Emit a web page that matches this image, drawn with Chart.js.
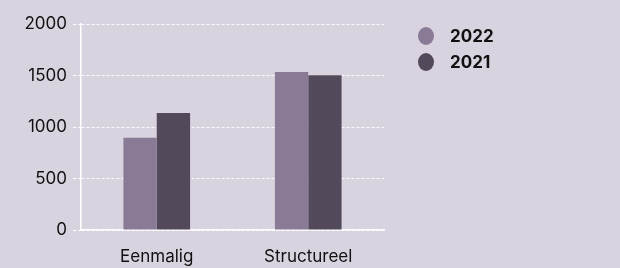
<!DOCTYPE html>
<html>
<head>
<meta charset="utf-8">
<script src="https://cdn.jsdelivr.net/npm/chart.js@4/dist/chart.umd.min.js"></script>
<style>
  html, body { margin: 0; padding: 0; background: #d8d3de; }
  #wrap { width: 620px; height: 268px; position: relative; }
</style>
</head>
<body>
<div id="wrap"><canvas id="c" width="620" height="268"></canvas></div>
<script>
const categories = ['Eenmalig', 'Structureel'];
const seriesNames = ['2022', '2021'];
const values2022 = [895, 1535];
const values2021 = [1135, 1502];
const yTicks = [0, 500, 1000, 1500, 2000];

const colors = ['#897b95', '#524a5b'];
const FONT = 'Inter, "Liberation Sans", sans-serif';

const legendPlugin = {
  id: 'customLegend',
  afterDraw(chart) {
    const ctx = chart.ctx;
    ctx.save();
    chart.data.datasets.forEach((ds, i) => {
      const cy = 36 + i * 26;
      ctx.beginPath();
      ctx.ellipse(426, cy, 8, 9, 0, 0, Math.PI * 2);
      ctx.fillStyle = ds.backgroundColor;
      ctx.fill();
      ctx.fillStyle = '#111111';
      ctx.font = 'bold 17px ' + FONT;
      ctx.textBaseline = 'middle';
      ctx.textAlign = 'left';
      ctx.fillText(ds.label, 450, cy + 1);
    });
    ctx.restore();
  }
};

new Chart(document.getElementById('c'), {
  type: 'bar',
  data: {
    labels: categories,
    datasets: [
      { label: seriesNames[0], data: values2022, backgroundColor: colors[0] },
      { label: seriesNames[1], data: values2021, backgroundColor: colors[1] }
    ]
  },
  options: {
    responsive: false,
    animation: false,
    devicePixelRatio: 1,
    layout: { padding: { top: 24, right: 236, bottom: 0, left: 0 } },
    datasets: { bar: { barPercentage: 1, categoryPercentage: 0.44 } },
    plugins: { legend: { display: false }, tooltip: { enabled: false } },
    scales: {
      x: {
        grid: { display: false, drawTicks: false },
        border: { display: true, color: '#ffffff', width: 1.5 },
        ticks: { color: '#111111', font: { family: FONT, size: 17 }, padding: 17 },
        afterFit(s) { s.height = 38; }
      },
      y: {
        min: 0, max: 2000,
        afterBuildTicks(s) { s.ticks = yTicks.map(v => ({ value: v })); },
        grid: {
          color: 'rgba(255,255,255,0.9)', lineWidth: 1,
          tickLength: 8, tickColor: '#ffffff', tickWidth: 1, tickBorderDash: [3, 2]
        },
        border: { display: true, color: '#ffffff', width: 1.5, dash: [3, 2] },
        ticks: {
          color: '#111111', font: { family: FONT, size: 17 }, padding: 6,
          callback: (v) => String(v)
        },
        afterFit(s) { s.width = 81; }
      }
    }
  },
  plugins: [legendPlugin]
});
</script>
</body>
</html>
